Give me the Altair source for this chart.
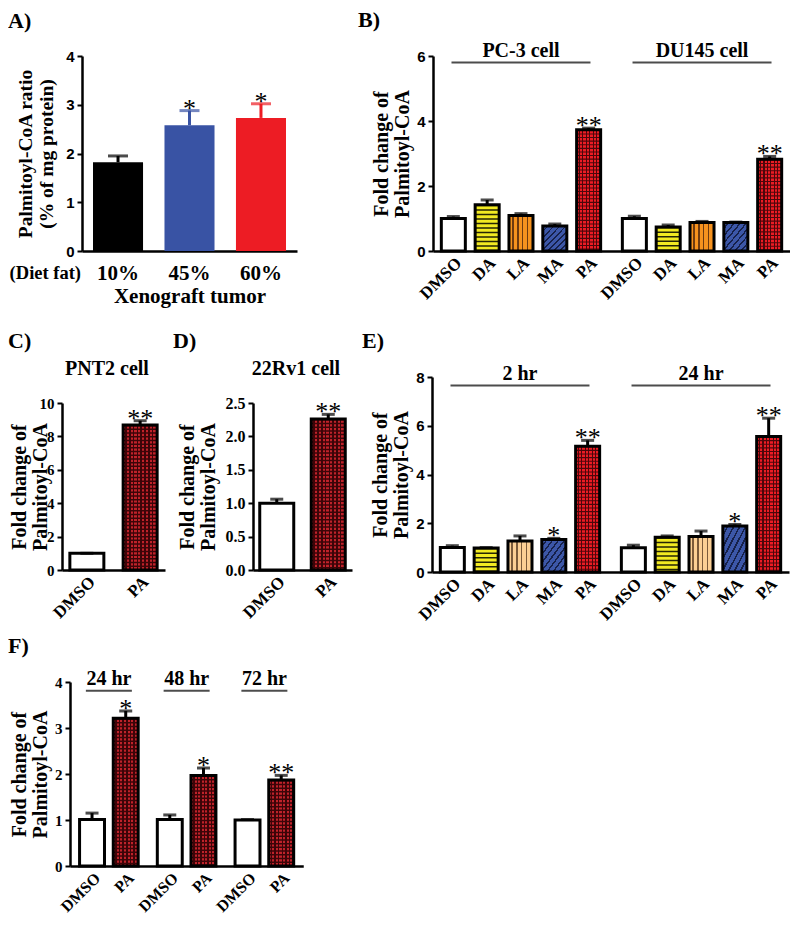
import altair as alt
import pandas as pd

SERIF = "Liberation Serif"
SANS = "Liberation Sans"

# ---------------- values ----------------
A_groups = ["10%", "45%", "60%"]
A_values = [1.82, 2.58, 2.73]
A_errors = [0.13, 0.30, 0.29]
A_stars = ["", "*", "*"]

treatments = ["DMSO", "DA", "LA", "MA", "PA"]

B_groups = ["PC-3 cell", "DU145 cell"]
B_values = [[1.00, 1.42, 1.09, 0.77, 3.73],
            [1.00, 0.74, 0.88, 0.88, 2.82]]
B_errors = [[0.06, 0.15, 0.06, 0.06, 0.05],
            [0.07, 0.06, 0.03, 0.01, 0.09]]
B_stars = [["", "", "", "", "**"],
           ["", "", "", "", "**"]]

pair = ["DMSO", "PA"]
C_groups = ["PNT2 cell"]
C_values = [[1.00, 8.69]]
C_errors = [[0.00, 0.25]]
C_stars = [["", "**"]]

D_groups = ["22Rv1 cell"]
D_values = [[1.00, 2.26]]
D_errors = [[0.06, 0.07]]
D_stars = [["", "**"]]

E_groups = ["2 hr", "24 hr"]
E_values = [[1.01, 0.98, 1.27, 1.33, 5.16],
            [1.00, 1.43, 1.46, 1.89, 5.56]]
E_errors = [[0.07, 0.02, 0.21, 0.05, 0.24],
            [0.10, 0.05, 0.22, 0.06, 0.75]]
E_stars = [["", "", "", "*", "**"],
           ["", "", "", "*", "**"]]

F_groups = ["24 hr", "48 hr", "72 hr"]
F_values = [[1.01, 3.21], [1.01, 1.97], [1.00, 1.87]]
F_errors = [[0.14, 0.16], [0.10, 0.16], [0.01, 0.10]]
F_stars = [["", "*"], ["", "*"], ["", "**"]]

A_colors = ["#000000", "#3953a4", "#ed1c24"]


# ---------------- styling helpers ----------------
def stripes(base, line, n, frac, diagonal=False):
    stops = []
    for i in range(n):
        a = round(i / n, 4)
        b = round((i + 1 - frac) / n, 4)
        c = round((i + 1) / n, 4)
        stops += [{"offset": a, "color": base}, {"offset": b, "color": base},
                  {"offset": b, "color": line}, {"offset": c, "color": line}]
    return {"gradient": "linear", "x1": 0, "y1": 0, "x2": 1,
            "y2": 1 if diagonal else 0, "stops": stops}


def make_styles(bw, la_base, la_line, pa_base, pa_line, pa_frac, pa_dash):
    n_pa = max(3, round(bw / 3.6))
    return {
        "DMSO": {"fill": "white"},
        "DA": {"fill": "#f2ea22", "hstripe": ("#262605", [1.5, 3.0])},
        "LA": {"fill": stripes(la_base, la_line, 5, 0.3)},
        "MA": {"fill": stripes("#3c57a8", "#16214a", 8, 0.3, diagonal=True)},
        "PA": {"fill": stripes(pa_base, pa_line, n_pa, pa_frac),
               "hstripe": (pa_line, pa_dash)},
    }


def y_axis(values, fmt, title, label_font, title_pad, label_size=15, offset=0,
           title_size=20):
    return alt.Axis(values=values, format=fmt, title=title, grid=False, offset=offset,
                    domainColor="black", domainWidth=2.5, tickColor="black",
                    tickWidth=2, tickSize=5, labelFont=label_font,
                    labelFontWeight="bold", labelFontSize=label_size, labelColor="black",
                    labelPadding=3, titleFont=SERIF, titleFontWeight="bold",
                    titleFontSize=title_size, titleColor="black", titleLineHeight=21,
                    titlePadding=title_pad)


def ttl(text, offset, dx):
    return alt.TitleParams(text=text, font=SERIF, fontSize=22, fontWeight="bold",
                           color="black", anchor="start", frame="group",
                           baseline="alphabetic", offset=offset, dx=dx)


def grouped_panel(groups, values, errors, stars, treats, width, height, ymax,
                  pi_g, po_g, pi_t, styles, yax, title, label_y,
                  label_dx=0, line_y=None, line_len=0, label_size=17,
                  x_start=0, y_top=0):
    rows = []
    for g, vals, errs, sts in zip(groups, values, errors, stars):
        for t, v, e, s in zip(treats, vals, errs, sts):
            rows.append({"grp": g, "treat": t, "value": v, "top": v + e, "star": s})
    df = pd.DataFrame(rows)
    ng, nt = len(groups), len(treats)
    gband = width / (ng - pi_g + 2 * po_g) * (1 - pi_g)
    bw = gband / (nt - pi_t) * (1 - pi_t)
    st_all = styles(bw)

    X = alt.X("grp:N", sort=groups, title=None,
              scale=alt.Scale(domain=groups, paddingInner=pi_g, paddingOuter=po_g,
                              range=[x_start, x_start + width]),
              axis=alt.Axis(labels=False, ticks=False, domainColor="black", domainWidth=2.5))
    XO = alt.XOffset("treat:N", sort=treats,
                     scale=alt.Scale(domain=treats, paddingInner=pi_t, paddingOuter=0))
    ys = alt.Scale(domain=[0, ymax], nice=False, range=[y_top + height, y_top])

    def Y(f):
        return alt.Y(f, scale=ys, axis=yax)

    def YD(v):
        return alt.YDatum(v, type="quantitative", scale=ys, axis=yax)

    base = alt.Chart(df)
    layers = []
    for t in treats:
        st = st_all[t]
        sub = base.transform_filter(alt.datum.treat == t)
        layers.append(sub.mark_bar(fill=st["fill"], strokeWidth=0).encode(
            x=X, xOffset=XO, y=Y("value:Q")))
        if "hstripe" in st:
            col, dash = st["hstripe"]
            layers.append(sub.mark_rule(stroke=col, strokeWidth=bw, strokeDash=dash).encode(
                x=X, xOffset=XO, y=Y("value:Q"), y2=alt.datum(0)))
    layers.append(base.mark_bar(fill="white", fillOpacity=0, stroke="black",
                                strokeWidth=3).encode(x=X, xOffset=XO, y=Y("value:Q")))
    layers.append(base.mark_rule(color="black", strokeWidth=3).encode(
        x=X, xOffset=XO, y=Y("value:Q"), y2="top:Q"))
    layers.append(base.mark_tick(color="black", thickness=3, size=13).encode(
        x=X, xOffset=XO, y=Y("top:Q")))
    layers.append(base.mark_text(font=SERIF, fontSize=26, baseline="alphabetic", dy=6,
                                 color="black").encode(
        x=X, xOffset=XO, y=Y("top:Q"), text="star:N"))
    # treatment names under the bars
    layers.append(base.mark_text(angle=315, align="right", baseline="top", font=SERIF,
                                 fontWeight="bold", fontSize=label_size, color="black",
                                 dx=-2.8, dy=2.8).encode(
        x=X, xOffset=XO, y=YD(0), text="treat:N"))
    first = base.transform_filter(alt.datum.treat == treats[0])
    layers.append(first.mark_text(font=SERIF, fontWeight="bold", fontSize=20,
                                  baseline="alphabetic", color="black", dx=label_dx).encode(
        x=X, y=YD(label_y), text="grp:N"))
    if line_y is not None:
        layers.append(first.mark_tick(color="black", thickness=2, size=line_len).encode(
            x=X, y=YD(line_y)))
    return alt.layer(*layers).properties(width=x_start + width, height=y_top + height,
                                         title=title)


def stylesB(bw):
    return make_styles(bw, "#f6921e", "#6e3a10", "#ec1c24", "#4d070b", 0.33, [1.1, 2.5])


def stylesE(bw):
    return make_styles(bw, "#fbcf94", "#7a5a3a", "#ec1c24", "#4d070b", 0.33, [1.1, 2.5])


def stylesDark(bw):
    return make_styles(bw, "#f6921e", "#6e3a10", "#c0222a", "#3c0508", 0.42, [1.5, 2.2])


FOLD = ["Fold change of", "Palmitoyl-CoA"]

# ---------------- panel A ----------------
A_shift, A_w, A_h = 20, 215, 195
dfA = pd.DataFrame({"cat": A_groups, "value": A_values,
                    "top": [v + e for v, e in zip(A_values, A_errors)], "star": A_stars})
xA = alt.X("cat:N", sort=A_groups,
           scale=alt.Scale(domain=A_groups, paddingInner=0.3, paddingOuter=0.154,
                           range=[A_shift, A_shift + A_w]),
           axis=alt.Axis(labelAngle=0, labelFont=SERIF, labelFontWeight="bold",
                         labelFontSize=21, labelColor="black", labelPadding=11, ticks=False,
                         domainColor="black", domainWidth=2.5, title="Xenograft tumor",
                         titleFont=SERIF, titleFontWeight="bold", titleFontSize=21,
                         titleColor="black", titlePadding=2))
ysA = alt.Scale(domain=[0, 4], nice=False)
axA = y_axis([0, 1, 2, 3, 4], "d", ["Palmitoyl-CoA ratio", "(% of mg protein)"], SANS, 8.7,
             offset=-A_shift, title_size=19.5)
colA = alt.Color("cat:N", scale=alt.Scale(domain=A_groups, range=A_colors), legend=None)
baseA = alt.Chart(dfA)
A = alt.layer(
    baseA.mark_bar().encode(x=xA, y=alt.Y("value:Q", scale=ysA, axis=axA), color=colA),
    baseA.mark_rule(strokeWidth=3).encode(x=xA, y=alt.Y("value:Q", scale=ysA, axis=axA),
                                          y2="top:Q", color=colA),
    baseA.mark_tick(thickness=3, size=20).encode(x=xA, y=alt.Y("top:Q", scale=ysA, axis=axA),
                                                 color=colA),
    baseA.mark_text(font=SERIF, fontSize=26, baseline="alphabetic", dy=6, color="black").encode(
        x=xA, y=alt.Y("top:Q", scale=ysA, axis=axA), text="star:N"),
    alt.Chart(pd.DataFrame({"t": ["(Diet fat)"]})).mark_text(
        font=SERIF, fontSize=18.5, fontWeight="bold", align="right", baseline="alphabetic",
        color="black").encode(x=alt.value(A_shift - 1), y=alt.value(A_h + 28), text="t:N"),
).properties(width=A_shift + A_w, height=A_h, title=ttl("A)", -0.5, -54))

# ---------------- panel B ----------------
B = grouped_panel(B_groups, B_values, B_errors, B_stars, treatments, 357, 195, 6,
                  0.12, 0.046, 0.29, stylesB,
                  y_axis([0, 2, 4, 6], "d", FOLD, SANS, 3.7), ttl("B)", -8, -75),
                  label_y=5.97, line_y=5.8, line_len=139)

# ---------------- panels C, D (data region starts 26 px below the row top) ----------------
C = grouped_panel(C_groups, C_values, C_errors, C_stars, pair, 103, 167, 10,
                  0.1, 0.081, 0.362, stylesDark,
                  y_axis([0, 2, 4, 6, 8, 10], "d", FOLD, SERIF, -11), ttl("C)", -11, -54),
                  label_y=11.68, label_dx=-6.5, y_top=26)
D = grouped_panel(D_groups, D_values, D_errors, D_stars, pair, 99, 167, 2.5,
                  0.1, 0.071, 0.34, stylesDark,
                  y_axis([0, 0.5, 1.0, 1.5, 2.0, 2.5], ".1f", FOLD, SERIF, 6.5, label_size=16),
                  ttl("D)", -11, -80), label_y=2.92, label_dx=-6.5, y_top=26)

# ---------------- panel E ----------------
E = grouped_panel(E_groups, E_values, E_errors, E_stars, treatments, 357, 195, 8,
                  0.12, 0.046, 0.29, stylesE,
                  y_axis([0, 2, 4, 6, 8], "d", FOLD, SANS, 3.7), ttl("E)", -6, -70),
                  label_y=7.88, line_y=7.65, line_len=139)

# ---------------- panel F (plot starts 8 px right of the column origin) ----------------
F_shift = 8
F = grouped_panel(F_groups, F_values, F_errors, F_stars, pair, 233.25, 184, 4,
                  0.246, 0.123, 0.26, stylesDark,
                  y_axis([0, 1, 2, 3, 4], "d", FOLD, SERIF, 4.5, offset=-F_shift),
                  ttl("F)", -6, -54),
                  label_y=3.93, line_y=3.81, line_len=46, label_size=16, x_start=F_shift)

# ---------------- layout ----------------
row1 = alt.hconcat(A, B, spacing=61).resolve_scale(xOffset="independent")
cd = alt.hconcat(C, D, spacing=8).resolve_scale(xOffset="independent")
row2 = alt.hconcat(cd, E, spacing=10).resolve_scale(xOffset="independent")
lower = alt.vconcat(row2, F, spacing=11).resolve_scale(xOffset="independent")
chart = alt.vconcat(row1, lower, spacing=23).resolve_scale(xOffset="independent")
chart = chart.properties(padding=0, background="white").configure_view(strokeWidth=0)

chart.save("out.html", embed_options={"renderer": "svg", "actions": False})
